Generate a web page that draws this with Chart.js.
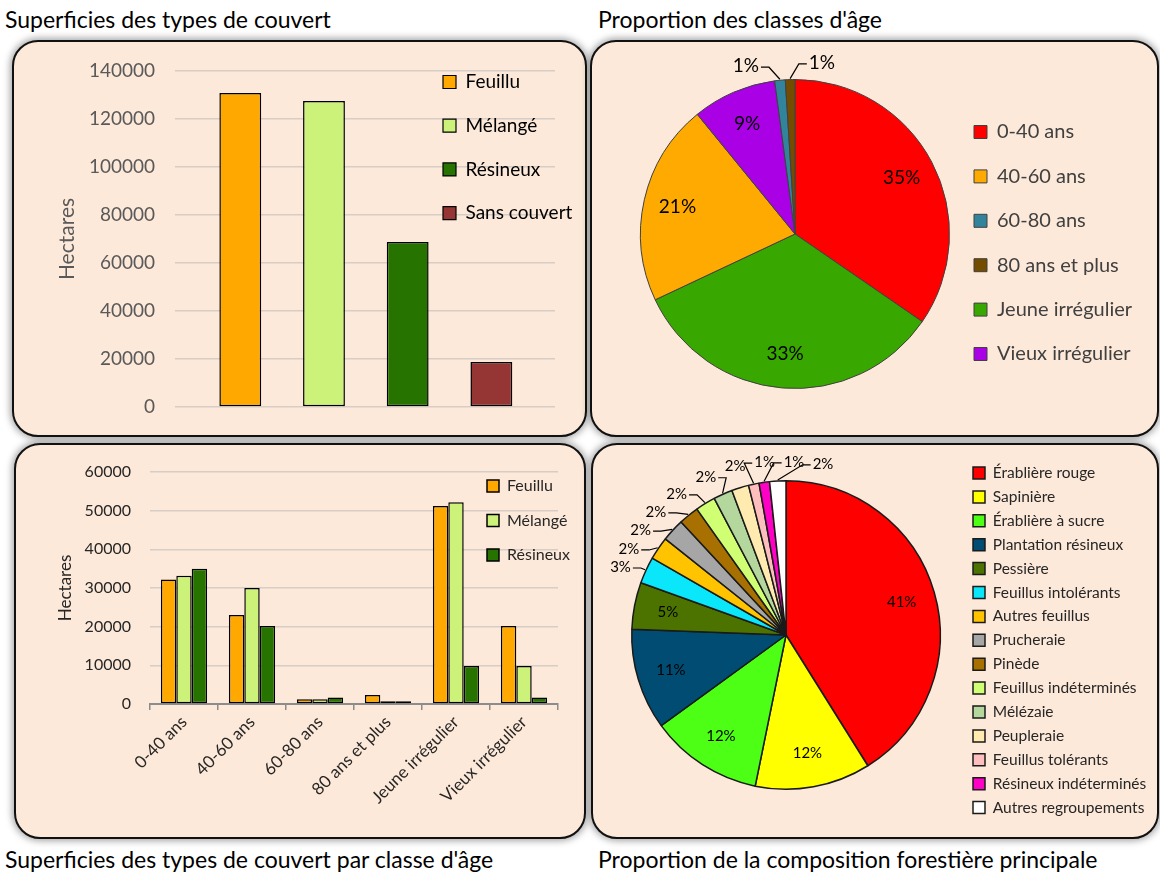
<!DOCTYPE html>
<html>
<head>
<meta charset="utf-8">
<script src="https://cdn.jsdelivr.net/npm/chart.js@4.4.1/dist/chart.umd.min.js"></script>
<style>
  body { margin: 0; background: #fff; width: 1160px; height: 873px; position: relative; overflow: hidden; font-family: Lato, 'Noto Sans', sans-serif; }
  .title { position: absolute; font-size: 23px; line-height: 24px; color: #000; white-space: nowrap; }
  .panel { position: absolute; box-sizing: border-box; border: 2px solid #111; border-radius: 26px; background: #fde9d9; box-shadow: 0 0 7px 2px rgba(0, 0, 0, 0.35); }
  .panel canvas { position: absolute; left: 0; top: 0; }
</style>
</head>
<body>

<div class="title" style="left:5px;top:7px">Superficies des types de couvert</div>
<div class="title" style="left:598px;top:7px">Proportion des classes d'âge</div>
<div class="title" style="left:5px;top:847px">Superficies des types de couvert par classe d'âge</div>
<div class="title" style="left:598px;top:847px">Proportion de la composition forestière principale</div>

<div class="panel" style="left:12px;top:40px;width:575px;height:397px"><canvas id="couvert" width="571" height="393"></canvas></div>
<div class="panel" style="left:590px;top:40px;width:569px;height:397px"><canvas id="ages" width="565" height="393"></canvas></div>
<div class="panel" style="left:14px;top:443px;width:572px;height:396px"><canvas id="couvertAge" width="568" height="392"></canvas></div>
<div class="panel" style="left:591px;top:443px;width:568px;height:396px"><canvas id="composition" width="564" height="392"></canvas></div>

<script>
// Superficies des types de couvert (hectares)
const covers = ['Feuillu', 'Mélangé', 'Résineux', 'Sans couvert'];
const coverHectares = [130800, 127500, 68700, 18800];
const coverColors = ['#FFA800', '#CCF27A', '#267300', '#963634'];

// Superficies par classe d'âge (hectares)
const ageClasses = ['0-40 ans', '40-60 ans', '60-80 ans', '80 ans et plus', 'Jeune irrégulier', 'Vieux irrégulier'];
const feuilluByAge = [32200, 23000, 1200, 2300, 51200, 20200];
const melangeByAge = [33200, 30000, 1200, 700, 52200, 9800];
const resineuxByAge = [35000, 20200, 1700, 700, 9800, 1700];

// Proportion des classes d'âge (%), dans l'ordre du camembert
const ageSlices = ['0-40 ans', 'Jeune irrégulier', '40-60 ans', 'Vieux irrégulier', '60-80 ans', '80 ans et plus'];
const ageShares = [34.6, 33.4, 21.1, 8.8, 1.1, 1.0];
const ageColors = ['#FF0000', '#38A800', '#FFAA00', '#A900E6', '#31849B', '#734C00'];

// Composition forestière principale (%)
const compositions = ['Érablière rouge', 'Sapinière', 'Érablière à sucre', 'Plantation résineux', 'Pessière',
  'Feuillus intolérants', 'Autres feuillus', 'Prucheraie', 'Pinède', 'Feuillus indéterminés', 'Mélézaie',
  'Peupleraie', 'Feuillus tolérants', 'Résineux indéterminés', 'Autres regroupements'];
const compositionShares = [41.1, 12.1, 11.8, 10.6, 4.9, 2.8, 2.4, 2.4, 2.1, 2.1, 2.0, 1.8, 1.1, 1.1, 1.7];
const compositionColors = ['#FF0000', '#FFFF00', '#4CFF14', '#004C73', '#4C7300', '#0AE6FA', '#FFC300', '#A6A6A6',
  '#A87000', '#D1FF73', '#B4D79E', '#FFEBAF', '#FFBEBE', '#FF00C5', '#FFFFFF'];

const gridColor = '#d6cdc6';

Chart.defaults.font.family = "Lato, 'Noto Sans', sans-serif";

// place la légende (position chartArea) à un endroit précis du canvas
const moveLegend = {
  id: 'moveLegend',
  beforeDraw(chart, args, o) {
    const lg = chart.legend;
    const lo = lg.options.labels;
    const fs = (lo.font && lo.font.size) || 12;
    const ih = Math.max(fs, lo.boxHeight);
    lg.left = o.x - lo.padding;
    lg.top = o.y - ih / 2 - lo.padding;
    lg.right = chart.width;
    lg.bottom = chart.height * 2;
  }
};

// étiquettes de pourcentage des camemberts
const pieLabels = {
  id: 'pieLabels',
  afterDatasetsDraw(chart, args, o) {
    const ctx = chart.ctx;
    const vals = chart.data.datasets[0].data;
    const total = vals.reduce((s, v) => s + v, 0);
    const arcs = chart.getDatasetMeta(0).data;
    ctx.save();
    ctx.font = o.size + "px Lato, 'Noto Sans', sans-serif";
    ctx.fillStyle = '#000';
    ctx.strokeStyle = '#000';
    ctx.lineWidth = 1.2;
    ctx.textAlign = 'center';
    ctx.textBaseline = 'middle';
    const out = [];
    arcs.forEach((arc, i) => {
      const p = arc.getProps(['x', 'y', 'startAngle', 'endAngle', 'outerRadius'], true);
      const share = vals[i] / total * 100;
      const text = Math.round(share) + '%';
      const mid = (p.startAngle + p.endAngle) / 2;
      if (share >= o.minInside) {
        const r = p.outerRadius * o.inside;
        ctx.fillText(text, p.x + Math.cos(mid) * r, p.y + Math.sin(mid) * r);
      } else {
        out.push({ p, mid, a: mid, text, w: ctx.measureText(text).width + 4, h: o.size + 2 });
      }
    });
    // petites tranches : étiquette à l'extérieur, écartées le long du cercle si elles se chevauchent
    const pos = l => {
      const ext = Math.abs(Math.cos(l.a)) * l.w / 2 + Math.abs(Math.sin(l.a)) * l.h / 2;
      const r = l.p.outerRadius + o.gap + ext;
      l.cx = l.p.x + Math.cos(l.a) * r;
      l.cy = l.p.y + Math.sin(l.a) * r;
    };
    out.sort((a, b) => a.mid - b.mid);
    const step = 0.25 * Math.PI / 180;
    for (let it = 0; it < 600; it++) {
      out.forEach(pos);
      let moved = false;
      for (let i = 0; i < out.length; i++) {
        for (let j = i + 1; j < out.length; j++) {
          const A = out[i], B = out[j];
          if (Math.abs(A.cx - B.cx) < (A.w + B.w) / 2 + o.spreadX &&
              Math.abs(A.cy - B.cy) < (A.h + B.h) / 2 + o.spreadY) {
            A.a -= step;
            B.a += step;
            moved = true;
          }
        }
      }
      if (!moved) break;
    }
    out.forEach(l => {
      pos(l);
      ctx.fillText(l.text, l.cx, l.cy);
      if (Math.abs(l.a - l.mid) > 1.5 * Math.PI / 180) {
        const ex = l.p.x + Math.cos(l.mid) * (l.p.outerRadius + 1);
        const ey = l.p.y + Math.sin(l.mid) * (l.p.outerRadius + 1);
        const left = l.cx < ex;
        const sx = left ? l.cx + l.w / 2 : l.cx - l.w / 2;
        ctx.beginPath();
        ctx.moveTo(sx, l.cy + 1);
        ctx.lineTo(sx + (left ? 8 : -8), l.cy + 1);
        ctx.lineTo(ex, ey);
        ctx.stroke();
      }
    });
    ctx.restore();
  }
};

const plainNumber = v => String(v);

// 1 - Superficies des types de couvert
new Chart(document.getElementById('couvert'), {
  type: 'bar',
  data: {
    labels: covers,
    datasets: [{
      data: coverHectares.map((v, i) => ({ x: i, y: v })),
      backgroundColor: coverColors,
      borderColor: '#000',
      borderWidth: 1.5,
      borderSkipped: false,
      barPercentage: 0.5,
      categoryPercentage: 1
    }]
  },
  options: {
    responsive: false,
    animation: false,
    events: [],
    layout: { padding: { left: 41, right: 30, top: 29, bottom: 28 } },
    scales: {
      x: { type: 'linear', display: false, offset: false, min: -0.78, max: 3.76, ticks: { stepSize: 1, includeBounds: false } },
      y: {
        min: 0, max: 140000,
        ticks: { stepSize: 20000, color: '#595959', font: { size: 19 }, padding: 0, callback: plainNumber },
        grid: { color: gridColor, lineWidth: 1.5, drawTicks: true, tickLength: 20, tickColor: 'rgba(0,0,0,0)' },
        border: { display: false },
        title: { display: true, text: 'Hectares', color: '#595959', font: { size: 21 }, padding: { top: 0, bottom: 0 } },
        afterFit: s => { s.width = 120; }
      }
    },
    plugins: {
      legend: {
        position: 'chartArea',
        align: 'start',
        labels: {
          boxWidth: 13, boxHeight: 13, padding: 24.7, color: '#404040', font: { size: 19 },
          generateLabels: () => covers.map((c, i) => ({
            text: c, fillStyle: coverColors[i], strokeStyle: '#000', lineWidth: 1.2, hidden: false, index: i
          }))
        }
      },
      moveLegend: { x: 429, y: 40 },
      tooltip: { enabled: false }
    }
  },
  plugins: [moveLegend]
});

// 2 - Proportion des classes d'âge
new Chart(document.getElementById('ages'), {
  type: 'pie',
  data: {
    labels: ageSlices,
    datasets: [{ data: ageShares, backgroundColor: ageColors, borderColor: '#404040', borderWidth: 1 }]
  },
  options: {
    responsive: false,
    animation: false,
    events: [],
    layout: { padding: { left: 48, top: 37, right: 207, bottom: 46 } },
    plugins: {
      legend: {
        position: 'chartArea',
        align: 'start',
        labels: {
          boxWidth: 13, boxHeight: 13, padding: 24.4, color: '#404040', font: { size: 20 },
          sort: (a, b) => ageClasses.indexOf(a.text) - ageClasses.indexOf(b.text)
        }
      },
      moveLegend: { x: 382, y: 90 },
      pieLabels: { size: 19, inside: 0.78, minInside: 3, gap: 6, spreadX: 45, spreadY: 2 },
      tooltip: { enabled: false }
    }
  },
  plugins: [moveLegend, pieLabels]
});

// 3 - Superficies des types de couvert par classe d'âge
new Chart(document.getElementById('couvertAge'), {
  type: 'bar',
  data: {
    labels: ageClasses,
    datasets: [
      { label: 'Feuillu', data: feuilluByAge, backgroundColor: coverColors[0] },
      { label: 'Mélangé', data: melangeByAge, backgroundColor: coverColors[1] },
      { label: 'Résineux', data: resineuxByAge, backgroundColor: coverColors[2] }
    ].map(d => Object.assign(d, { borderColor: '#000', borderWidth: 1.5, borderSkipped: false }))
  },
  options: {
    responsive: false,
    animation: false,
    events: [],
    categoryPercentage: 0.68,
    barPercentage: 1,
    layout: { padding: { left: 39, right: 26, top: 27, bottom: 23 } },
    scales: {
      x: {
        offset: true,
        grid: { offset: true, drawOnChartArea: false, drawTicks: true, tickLength: 6, color: '#8c8c8c', lineWidth: 1.5 },
        border: { color: '#8c8c8c', width: 2 },
        ticks: { color: '#262626', font: { size: 17 }, minRotation: 45, maxRotation: 45, padding: 2 },
        afterFit: s => { s.height = 110; }
      },
      y: {
        min: 0, max: 60000,
        ticks: { stepSize: 10000, color: '#262626', font: { size: 16 }, padding: 0, callback: plainNumber },
        grid: { color: gridColor, lineWidth: 1.5, drawTicks: true, tickLength: 19, tickColor: 'rgba(0,0,0,0)' },
        border: { display: false },
        title: { display: true, text: 'Hectares', color: '#262626', font: { size: 17 }, padding: { top: 0, bottom: 0 } },
        afterFit: s => { s.width = 95; }
      }
    },
    plugins: {
      legend: {
        position: 'chartArea',
        align: 'start',
        labels: { boxWidth: 12, boxHeight: 12, padding: 18.5, color: '#262626', font: { size: 16 } }
      },
      moveLegend: { x: 471, y: 41 },
      tooltip: { enabled: false }
    }
  },
  plugins: [moveLegend]
});

// 4 - Proportion de la composition forestière principale
new Chart(document.getElementById('composition'), {
  type: 'pie',
  data: {
    labels: compositions,
    datasets: [{ data: compositionShares, backgroundColor: compositionColors, borderColor: '#1a1a1a', borderWidth: 1.5 }]
  },
  options: {
    responsive: false,
    animation: false,
    events: [],
    layout: { padding: { left: 38, top: 35, right: 216, bottom: 47 } },
    plugins: {
      legend: {
        position: 'chartArea',
        align: 'start',
        labels: { boxWidth: 12, boxHeight: 12, padding: 8.4, color: '#262626', font: { size: 15.5 } }
      },
      moveLegend: { x: 380, y: 28 },
      pieLabels: { size: 15, inside: 0.78, minInside: 4, gap: 10, spreadX: 4, spreadY: 1 },
      tooltip: { enabled: false }
    }
  },
  plugins: [moveLegend, pieLabels]
});
</script>
</body>
</html>
